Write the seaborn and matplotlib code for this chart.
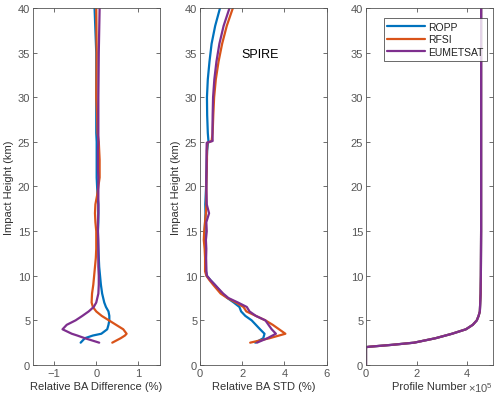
import numpy as np
import pandas as pd
import matplotlib
matplotlib.use("Agg")
import matplotlib.pyplot as plt
import seaborn as sns
from matplotlib.ticker import FuncFormatter

# data
methods = ["ROPP", "RFSI", "EUMETSAT"]
colors = ["#0072BD", "#D95319", "#7E2F8E"]

diff_height = [2.5, 3, 3.3, 3.5, 4, 4.5, 5, 5.5, 6, 6.5, 7, 8, 9, 10, 11, 12, 13, 14, 15,
               16, 17, 18, 19, 20, 21, 22, 23, 24, 25, 26, 28, 30, 35, 40]
diff_ropp = [-0.37, -0.27, -0.08, 0.12, 0.26, 0.29, 0.31, 0.31, 0.29, 0.23, 0.19, 0.14, 0.11,
             0.09, 0.07, 0.06, 0.05, 0.04, 0.04, 0.05, 0.05, 0.05, 0.03, 0.02, 0.01, 0.01,
             0.01, 0.01, 0.01, 0.0, 0.0, 0.0, 0.0, -0.04]
diff_rfsi = [0.38, 0.58, 0.68, 0.72, 0.64, 0.47, 0.3, 0.13, 0.0, -0.08, -0.11, -0.1, -0.07,
             -0.05, -0.03, -0.01, 0.0, 0.0, 0.0, -0.02, -0.03, -0.02, 0.02, 0.05, 0.08, 0.08,
             0.08, 0.07, 0.06, 0.03, 0.02, 0.0, 0.01, 0.0]
diff_eum = [0.07, -0.27, -0.45, -0.58, -0.8, -0.7, -0.49, -0.33, -0.18, -0.06, 0.0, 0.05, 0.06,
            0.06, 0.05, 0.05, 0.05, 0.05, 0.04, 0.04, 0.05, 0.05, 0.05, 0.05, 0.05, 0.04,
            0.04, 0.04, 0.05, 0.05, 0.05, 0.05, 0.06, 0.08]

std_height = [2.5, 3, 3.5, 4, 4.5, 5, 5.5, 6, 6.5, 7, 7.5, 8, 8.5, 9, 9.5, 10, 10.5, 11, 12,
              13, 14, 15, 16, 17, 18, 19, 20, 21, 22, 23, 24, 24.9, 25.1, 26, 28, 30, 32,
              34, 36, 38, 40]
std_ropp = [2.62, 3.0, 3.06, 2.85, 2.65, 2.45, 2.15, 1.95, 1.87, 1.6, 1.3, 1.05, 0.88, 0.7,
            0.5, 0.32, 0.29, 0.28, 0.27, 0.27, 0.24, 0.22, 0.24, 0.26, 0.25, 0.27, 0.29,
            0.3, 0.31, 0.32, 0.34, 0.38, 0.4, 0.37, 0.34, 0.33, 0.37, 0.45, 0.55, 0.72, 0.95]
std_rfsi = [2.38, 3.3, 4.05, 3.75, 3.45, 3.1, 2.65, 2.2, 2.06, 1.7, 1.3, 0.98, 0.8, 0.62,
            0.45, 0.3, 0.24, 0.24, 0.24, 0.22, 0.18, 0.2, 0.24, 0.28, 0.3, 0.3, 0.3, 0.31,
            0.32, 0.33, 0.33, 0.35, 0.55, 0.6, 0.63, 0.67, 0.75, 0.88, 1.05, 1.27, 1.56]
std_eum = [2.7, 3.2, 3.6, 3.4, 3.25, 3.1, 2.65, 2.35, 2.22, 1.8, 1.35, 1.1, 0.9, 0.7, 0.5,
           0.33, 0.3, 0.3, 0.29, 0.3, 0.28, 0.32, 0.3, 0.43, 0.32, 0.31, 0.3, 0.3, 0.31,
           0.31, 0.31, 0.32, 0.6, 0.59, 0.6, 0.62, 0.68, 0.78, 0.92, 1.12, 1.4]

prof_height = [0, 2.0, 2.05, 2.25, 2.5, 3, 3.5, 4, 4.5, 5, 5.5, 6, 8, 10, 15, 20, 30, 40]
prof_count = [0, 0, 0.15e5, 1.0e5, 1.9e5, 2.75e5, 3.4e5, 3.95e5, 4.22e5, 4.38e5, 4.45e5,
              4.5e5, 4.53e5, 4.54e5, 4.55e5, 4.55e5, 4.55e5, 4.55e5]

sns.set_theme(style="ticks")
plt.rcParams["font.family"] = ["Liberation Sans", "DejaVu Sans"]
plt.rcParams["mathtext.fontset"] = "custom"
plt.rcParams["mathtext.rm"] = "Liberation Sans"
axis_col = "#555555"
text_col = "#333333"


def long_df(height, series):
    frames = []
    for m, vals in zip(methods, series):
        frames.append(pd.DataFrame({"height": height, "value": vals, "method": m}))
    return pd.concat(frames, ignore_index=True)


diff_df = long_df(diff_height, [diff_ropp, diff_rfsi, diff_eum])
std_df = long_df(std_height, [std_ropp, std_rfsi, std_eum])
prof_df = long_df(prof_height, [prof_count, prof_count, prof_count])

fig = plt.figure(figsize=(5.0, 4.02), dpi=100)
lefts = [0.066, 0.4, 0.732]
axes = [fig.add_axes([l, 0.0896, 0.253, 0.888]) for l in lefts]
palette = dict(zip(methods, colors))

for ax, df, show_leg in zip(axes, [diff_df, std_df, prof_df], [False, False, True]):
    sns.lineplot(data=df, x="value", y="height", hue="method", palette=palette,
                 sort=False, estimator=None, linewidth=1.6, legend=show_leg, ax=ax)
    ax.set_ylim(0, 40)
    ax.set_yticks(range(0, 41, 5))
    ax.tick_params(direction="in", top=True, right=True, length=3, width=0.6,
                   colors=axis_col, labelsize=8, pad=2)
    for sp in ax.spines.values():
        sp.set_visible(True)
        sp.set_color(axis_col)
        sp.set_linewidth(0.6)
    ax.set_ylabel("")

axes[0].set_xlim(-1.5, 1.5)
axes[0].set_xticks([-1, 0, 1])
axes[0].set_xlabel("Relative BA Difference (%)", fontsize=8, color=text_col, labelpad=2)
axes[0].set_ylabel("Impact Height (km)", fontsize=8, color=text_col, labelpad=3)

axes[1].set_xlim(0, 6)
axes[1].set_xticks([0, 2, 4, 6])
axes[1].set_xlabel("Relative BA STD (%)", fontsize=8, color=text_col, labelpad=2)
axes[1].set_ylabel("Impact Height (km)", fontsize=8, color=text_col, labelpad=3)
axes[1].text(2.86, 34.9, "SPIRE", fontsize=9, color="black", ha="center", va="center")

axes[2].set_xlim(0, 5e5)
axes[2].set_xticks([0, 2e5, 4e5])
axes[2].xaxis.set_major_formatter(FuncFormatter(lambda v, p: f"{v / 1e5:g}"))
axes[2].set_xlabel("Profile Number", fontsize=8, color=text_col, labelpad=2)
fig.text(0.937, 0.018, r"$\times10^5$", fontsize=8, color=axis_col, ha="left", va="bottom")

leg = axes[2].legend(loc="upper right", bbox_to_anchor=(0.955, 0.972), fontsize=7.5,
                     frameon=True, fancybox=False, edgecolor="#262626", handlelength=3.6,
                     borderaxespad=0, borderpad=0.35, labelspacing=0.25, handletextpad=0.3)
leg.get_frame().set_linewidth(0.6)
for t in leg.get_texts():
    t.set_color("#222222")

fig.savefig("out.png", dpi=100)
